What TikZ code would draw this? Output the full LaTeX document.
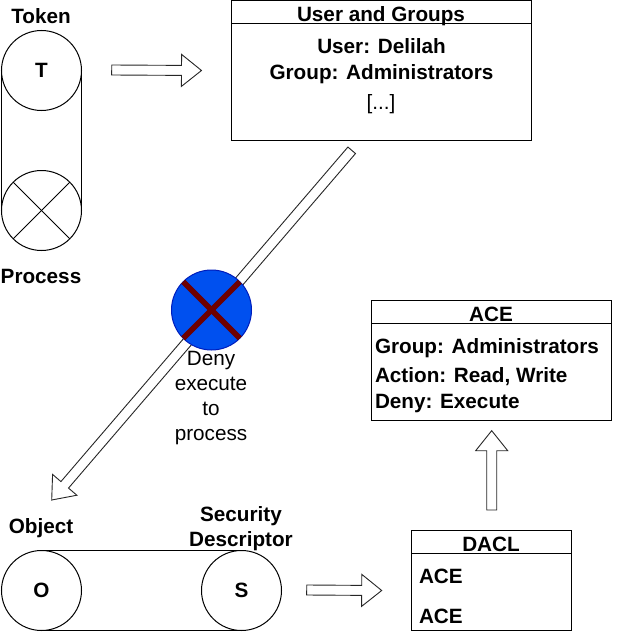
\documentclass[tikz,border=0pt]{standalone}
\usepackage{fontspec}
\setmainfont{Liberation Sans}
\usetikzlibrary{calc}
\tikzset{
  boldtext/.style={inner sep=0pt,outer sep=0pt,anchor=base,align=center,yshift=-0.7pt,font=\fontsize{20.7}{25.4}\selectfont\bfseries},
  boldleft/.style={inner sep=0pt,outer sep=0pt,anchor=base west,align=left,yshift=-0.7pt,font=\fontsize{20.7}{25.4}\selectfont\bfseries},
  plaintext/.style={inner sep=0pt,outer sep=0pt,anchor=base,align=center,yshift=-0.9pt,font=\fontsize{20.7}{25.2}\selectfont},
  disc/.style={circle,draw=black,line width=1pt,minimum size=80pt,inner sep=0pt,outer sep=0pt,font=\fontsize{20.7}{24}\selectfont\bfseries},
  box/.style={rectangle,draw=black,line width=1pt,inner sep=0pt,outer sep=0pt},
  rule/.style={draw=black,line width=1pt},
  hollow/.style={draw=black!85,fill=white,line width=0.9pt,line join=miter,
    to path={
      -- ($(\tikztostart)!5pt!90:(\tikztotarget)$)
      -- ($(\tikztotarget)!20.62pt!-14.04:(\tikztostart)$)
      -- ($(\tikztotarget)!25.61pt!-38.66:(\tikztostart)$)
      -- (\tikztotarget)
      -- ($(\tikztotarget)!25.61pt!38.66:(\tikztostart)$)
      -- ($(\tikztotarget)!20.62pt!14.04:(\tikztostart)$)
      -- ($(\tikztostart)!5pt!-90:(\tikztotarget)$)
      -- cycle
    }},
  denycross/.style={draw=denyred,line width=5.5pt},
  crossshadow/.style={draw=black,opacity=0.25,line width=5.5pt,shift={(2.5,2.5)}}
}
\definecolor{denyblue}{HTML}{0050EF}
\definecolor{denyedge}{HTML}{001DBC}
\definecolor{denyred}{HTML}{6F0000}
\begin{document}
\begin{tikzpicture}[x=1pt,y=-1pt]
\useasboundingbox (0,0) rectangle (632,634);

% process / token pill
\node[disc] (tok) at (41.5,70.5) {T};
\node[disc] (proc) at (41.5,210.5) {};
\draw[rule] (tok.west) -- (proc.west);
\draw[rule] (tok.east) -- (proc.east);
\draw[rule] (proc.45) -- (proc.225);
\draw[rule] (proc.135) -- (proc.-45);
\node[boldtext] (toklabel) at (41,23) {Token};
\node[boldtext] (proclabel) at (41,282.7) {Process};

% user and groups box
\node[box,minimum width=300pt,minimum height=140pt] (ug) at (381.5,70.5) {};
\draw[rule] (ug.west |- 0,23.5) -- (ug.east |- 0,23.5);
\node[boldtext] (ugtitle) at (381,20.7) {User and Groups};
\node[boldtext] (ugbody) at (381.5,78.3) {User: Delilah\\Group: Administrators};
\node[plaintext] (ugmore) at (381,108.5) {[...]};

% hollow arrows
\coordinate (a1s) at (111.7,70);
\coordinate (a1e) at (201.5,70.5);
\coordinate (a2s) at (351.7,150.3);
\coordinate (a2e) at (51.7,500);
\coordinate (a3s) at (306.7,590);
\coordinate (a3e) at (381.7,590.5);
\coordinate (a4s) at (491.7,510);
\coordinate (a4e) at (491.7,430.7);
\draw[hollow] (a1s) to (a1e);
\draw[hollow] (a2s) to (a2e);
\draw[hollow] (a3s) to (a3e);
\draw[hollow] (a4s) to (a4e);

% deny mark
\node[circle,fill=denyblue,draw=denyedge,line width=1pt,minimum size=80pt,inner sep=0pt,outer sep=0pt] (deny) at (211.5,310) {};
\draw[crossshadow] (deny.45) -- (deny.225);
\draw[crossshadow] (deny.135) -- (deny.-45);
\draw[denycross] (deny.45) -- (deny.225);
\draw[denycross] (deny.135) -- (deny.-45);
\node[plaintext] (denytext) at (211,440) {Deny\\execute\\to\\process};

% object pill
\node[disc] (obj) at (41.5,590.5) {O};
\node[disc] (sd) at (241.5,590.5) {S};
\draw[rule] (obj.north) -- (sd.north);
\draw[rule] (obj.south) -- (sd.south);
\node[boldtext] (objlabel) at (41,532.7) {Object};
\node[boldtext] (sdlabel) at (241,546) {Security\\Descriptor};

% ACE box
\node[box,minimum width=240pt,minimum height=120pt] (ace) at (491.5,360.5) {};
\draw[rule] (ace.west |- 0,323.5) -- (ace.east |- 0,323.5);
\node[boldtext] (acetitle) at (491,320.7) {ACE};
\node[boldleft] (acegroup) at (375,352.7) {Group: Administrators};
\node[boldleft] (acerest) at (375,407.5) {Action: Read, Write\\Deny: Execute};

% DACL box
\node[box,minimum width=160pt,minimum height=100pt] (dacl) at (491.5,580.5) {};
\draw[rule] (dacl.west |- 0,553.5) -- (dacl.east |- 0,553.5);
\node[boldtext] (dacltitle) at (491,551) {DACL};
\node[boldleft] (dacla) at (419,583) {ACE};
\node[boldleft] (daclb) at (419,622.5) {ACE};
\end{tikzpicture}
\end{document}
